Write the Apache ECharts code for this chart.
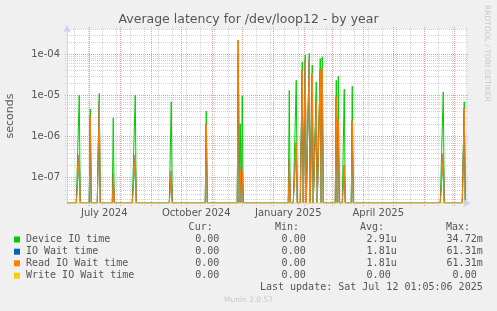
<!DOCTYPE html>
<html><head><meta charset="utf-8">
<script src="https://cdn.jsdelivr.net/npm/echarts@6/dist/echarts.min.js"></script>
<style>html,body{margin:0;padding:0;background:#f0f0f0;}#c{width:497px;height:311px;}</style>
</head><body><div id="c"></div>
<script>
// ---------- data ----------
const chartTitle = 'Average latency for /dev/loop12 - by year';
const yAxisName = 'seconds';
const seriesNames = ['Device IO time', 'IO Wait time', 'Read IO Wait time', 'Write IO Wait time'];
const seriesColors = ['#00cc00', '#0066b3', '#ff8000', '#ffcc00'];

const rangeStart = '2024-06-08T18:00:00Z';
const rangeEnd = '2025-07-13T18:00:00Z';
const yMin = 2.35e-8;
const yMax = 4.1e-4;

// days with activity (all other days are 0)
const spikeDates = ['2024-06-21','2024-07-02','2024-07-11','2024-07-25','2024-08-16','2024-09-21','2024-10-26',
  '2024-11-27','2024-11-29','2024-12-01','2025-01-17','2025-01-24','2025-01-30','2025-02-02','2025-02-06',
  '2025-02-09','2025-02-13','2025-02-17','2025-02-19','2025-03-05','2025-03-07','2025-03-13','2025-03-21',
  '2025-06-20','2025-07-11'];
const deviceIO = [1.0e-5, 4.6e-6, 1.1e-5, 2.8e-6, 1.0e-5, 6.9e-6, 4.1e-6,
  1.0e-4, 2.0e-6, 9.6e-6, 1.3e-5, 2.3e-5, 6.5e-5, 9.5e-5, 1.04e-4,
  5.4e-5, 2.1e-5, 7.8e-5, 8.6e-5, 2.3e-5, 2.9e-5, 1.4e-5, 1.66e-5,
  1.2e-5, 6.9e-6];
const ioWait = [3.5e-7, 3.2e-6, 6.9e-6, 1.2e-7, 3.5e-7, 1.4e-7, 2.0e-6,
  2.2e-4, 1.7e-7, 1.35e-7, 2.7e-7, 7.2e-7, 4.1e-5, 7.1e-5, 7.1e-5,
  3.4e-5, 6.9e-6, 4.1e-5, 4.5e-5, 9.1e-6, 2.6e-6, 1.95e-7, 2.4e-6,
  3.8e-7, 4.8e-6];
const readIOWait = [3.5e-7, 3.2e-6, 6.9e-6, 1.2e-7, 3.5e-7, 1.4e-7, 2.0e-6,
  2.2e-4, 1.7e-7, 1.35e-7, 2.7e-7, 7.2e-7, 4.1e-5, 7.1e-5, 7.1e-5,
  3.4e-5, 6.9e-6, 4.1e-5, 4.5e-5, 9.1e-6, 2.6e-6, 1.95e-7, 2.4e-6,
  3.8e-7, 4.8e-6];
const writeIOWait = [0,0,0,0,0,0,0,0,0,0,0,0,0,0,0,0,0,0,0,0,0,0,0,0,0];

const xTickDates = ['2024-07-16','2024-10-16','2025-01-16','2025-04-16'];
const xTickLabels = ['July 2024','October 2024','January 2025','April 2025'];
const monthStarts = ['2024-07-01','2024-08-01','2024-09-01','2024-10-01','2024-11-01','2024-12-01',
  '2025-01-01','2025-02-01','2025-03-01','2025-04-01','2025-05-01','2025-06-01','2025-07-01'];
const minorGridStart = '2024-06-16';

const legendHeader = ['Cur:', 'Min:', 'Avg:', 'Max:'];
const curVals = ['0.00', '0.00', '0.00', '0.00'];
const minVals = ['0.00', '0.00', '0.00', '0.00'];
const avgVals = ['2.91u', '1.81u', '1.81u', '0.00 '];
const maxVals = ['34.72m', '61.31m', '61.31m', '0.00 '];
const lastUpdate = 'Last update: Sat Jul 12 01:05:06 2025';
const footer = 'Munin 2.0.57';
const sideText = 'RRDTOOL / TOBI OETIKER';

// ---------- build ----------
const DAY = 86400000;
const t0 = Date.parse(rangeStart), t1 = Date.parse(rangeEnd);
const ts = s => Date.parse(s + 'T00:00:00Z');
const allSeries = [deviceIO, ioWait, readIOWait, writeIOWait];

const firstDay = Math.ceil(t0 / DAY) * DAY;
const days = [];
for (let d = firstDay; d <= t1; d += DAY) days.push(d);

function buildSeriesData(values) {
  const m = {};
  spikeDates.forEach((s, i) => { m[ts(s)] = values[i]; });
  return days.map(d => {
    const v = m[d] || 0;
    return [d, v > 0 ? v : yMin]; // zero drawn at the bottom like rrdtool
  });
}

const minorDates = [];
for (let d = ts(minorGridStart); d < t1; d += 14 * DAY) minorDates.push(d);
const majorY = [], minorY = [];
for (let e = -9; e <= -3; e++) {
  for (let k = 1; k <= 9; k++) {
    const v = k * Math.pow(10, e);
    if (v < yMin || v > yMax) continue;
    (k === 1 ? majorY : minorY).push(v);
  }
}

function vLine(color) {
  return function (params, api) {
    const cs = params.coordSys;
    const x = Math.round(api.coord([api.value(0), yMax])[0]) + 0.5;
    return { type: 'line', shape: { x1: x, y1: cs.y - 2, x2: x, y2: cs.y + cs.height + 3 },
      style: { stroke: color, lineWidth: 1, lineDash: [1, 1] } };
  };
}
function hLine(color) {
  return function (params, api) {
    const cs = params.coordSys;
    const y = Math.round(api.coord([t0, api.value(1)])[1]) + 0.5;
    return { type: 'line', shape: { x1: cs.x - 2, y1: y, x2: cs.x + cs.width + 2, y2: y },
      style: { stroke: color, lineWidth: 1, lineDash: [1, 1] } };
  };
}
const minorColor = '#d2d2d2', majorColor = '#e4a0a0';

const series = [
  { type: 'custom', silent: true, z: 1, clip: false, renderItem: hLine(minorColor), data: minorY.map(v => [t0, v]) },
  { type: 'custom', silent: true, z: 1, clip: false, renderItem: vLine(minorColor), data: minorDates.map(d => [d, yMax]) },
  { type: 'custom', silent: true, z: 1, clip: false, renderItem: hLine(majorColor), data: majorY.map(v => [t0, v]) },
  { type: 'custom', silent: true, z: 1, clip: false, renderItem: vLine(majorColor), data: monthStarts.map(s => [ts(s), yMax]) }
];
allSeries.forEach((vals, i) => {
  series.push({
    name: seriesNames[i], type: 'line', z: 3, showSymbol: false, symbol: 'none',
    data: buildSeriesData(vals), lineStyle: { width: 1, color: seriesColors[i] },
    itemStyle: { color: seriesColors[i] }, clip: true, silent: true
  });
});

const FONT = 'DejaVu Sans';
const MONO = 'DejaVu Sans Mono';
const txtColor = '#555555';
const graphic = [];
const rowY = [239.5, 251.7, 263.3, 275.7];
const colRight = [219.3, 305.7, 396.7, 482.7];
const headRight = [212.7, 299, 384, 470];
legendHeader.forEach((h, i) => graphic.push({ type: 'text', x: headRight[i], y: 227.7,
  style: { text: h, font: '10px ' + MONO, fill: txtColor, align: 'right', verticalAlign: 'middle' } }));
seriesNames.forEach((n, i) => {
  graphic.push({ type: 'rect', shape: { x: 14, y: rowY[i] - 3, width: 6, height: 6 }, style: { fill: seriesColors[i] } });
  graphic.push({ type: 'text', x: 26, y: rowY[i], style: { text: n, font: '10px ' + MONO, fill: txtColor, verticalAlign: 'middle' } });
  [curVals, minVals, avgVals, maxVals].forEach((arr, j) => graphic.push({ type: 'text', x: colRight[j], y: rowY[i],
    style: { text: arr[i], font: '10px ' + MONO, fill: txtColor, align: 'right', verticalAlign: 'middle' } }));
});
graphic.push({ type: 'text', x: 482.7, y: 287.7, style: { text: lastUpdate, font: '10px ' + MONO, fill: txtColor, align: 'right', verticalAlign: 'middle' } });
graphic.push({ type: 'text', x: 248.5, y: 300, style: { text: footer, font: '7.5px ' + FONT, fill: '#c8c8c8', align: 'center', verticalAlign: 'middle' } });
graphic.push({ type: 'text', x: 487, y: 5, rotation: -Math.PI / 2,
  style: { text: sideText, font: '7.5px ' + FONT, fill: '#c8c8c8', align: 'left', verticalAlign: 'middle' } });

const axisColor = '#cdd2f0';
const option = {
  animation: false,
  backgroundColor: '#f0f0f0',
  title: { text: chartTitle, left: 'center', top: 13, padding: 0,
    textStyle: { fontFamily: FONT, fontSize: 12.5, fontWeight: 'normal', color: txtColor } },
  grid: { left: 67, top: 29, width: 400, height: 174, show: true, backgroundColor: '#ffffff', borderWidth: 0,
    containLabel: false, outerBoundsMode: 'none' },
  xAxis: {
    type: 'value', min: t0, max: t1, scale: true, z: 5,
    axisLine: { show: true, onZero: false, symbol: ['none', 'arrow'], symbolSize: [6, 8], symbolOffset: [0, 4], lineStyle: { color: axisColor, width: 1, opacity: 0.6 } },
    axisTick: { show: false }, splitLine: { show: false }, minorTick: { show: false },
    axisLabel: {
      customValues: xTickDates.map(ts), hideOverlap: false,
      fontFamily: FONT, fontSize: 10, color: txtColor, margin: 5,
      formatter: v => { let best = 0; xTickDates.forEach((s, i) => { if (Math.abs(ts(s) - v) < Math.abs(ts(xTickDates[best]) - v)) best = i; }); return xTickLabels[best]; }
    }
  },
  yAxis: {
    type: 'log', logBase: 10, min: yMin, max: yMax,
    name: yAxisName, nameLocation: 'middle', nameRotate: 90, nameGap: 51,
    nameTextStyle: { fontFamily: FONT, fontSize: 11, color: txtColor },
    axisLine: { show: true, symbol: ['none', 'arrow'], symbolSize: [6, 8], symbolOffset: [0, 4], lineStyle: { color: axisColor, width: 1 } },
    axisTick: { show: false }, splitLine: { show: false },
    axisLabel: {
      showMinLabel: false, showMaxLabel: false, fontFamily: FONT, fontSize: 10, color: txtColor, margin: 7,
      formatter: v => { const e = Math.round(Math.log10(v)); const a = Math.abs(e); return '1e' + (e < 0 ? '-' : '+') + (a < 10 ? '0' + a : a); }
    }
  },
  series: series,
  graphic: graphic
};
const chart = echarts.init(document.getElementById('c'), null, { renderer: 'canvas', width: 497, height: 311 });
chart.setOption(option);
</script></body></html>
